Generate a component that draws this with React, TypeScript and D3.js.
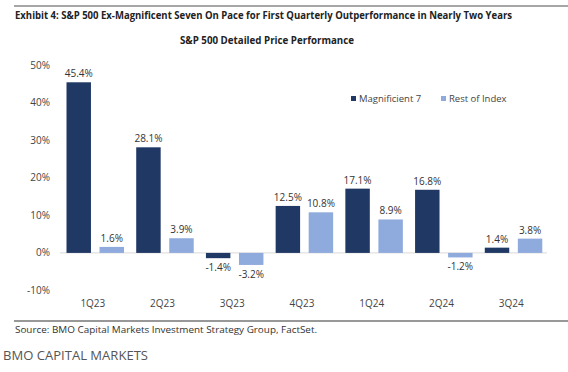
import React, { useEffect, useRef } from "react";
import * as d3 from "d3";

const quarters = ["1Q23", "2Q23", "3Q23", "4Q23", "1Q24", "2Q24", "3Q24"];
const mag7 = [45.4, 28.1, -1.4, 12.5, 17.1, 16.8, 1.4];
const restOfIndex = [1.6, 3.9, -3.2, 10.8, 8.9, -1.2, 3.8];
const seriesNames = ["Magnificient 7", "Rest of Index"];
const yTicks = [-10, 0, 10, 20, 30, 40, 50];

const COLORS = ["#203864", "#8faadc"];
const FONT = "'Open Sans', 'Noto Sans', sans-serif";

const App = () => {
  const ref = useRef<SVGSVGElement>(null);

  useEffect(() => {
    const svg = d3.select(ref.current);
    svg.selectAll("*").remove();

    const width = 568;

    // Header rule and titles
    svg.append("line")
      .attr("x1", 14).attr("x2", width).attr("y1", 6).attr("y2", 6)
      .attr("stroke", "#888").attr("stroke-width", 1.5);

    svg.append("text")
      .attr("x", 15).attr("y", 19)
      .attr("font-family", FONT).attr("font-weight", 700).attr("font-size", 10.5)
      .attr("fill", "#222")
      .attr("textLength", 497).attr("lengthAdjust", "spacingAndGlyphs")
      .text("Exhibit 4: S&P 500 Ex-Magnificent Seven On Pace for First Quarterly Outperformance in Nearly Two Years");

    svg.append("text")
      .attr("x", 267).attr("y", 44).attr("text-anchor", "middle")
      .attr("font-family", FONT).attr("font-weight", 700).attr("font-size", 10.5)
      .attr("fill", "#222")
      .attr("textLength", 174).attr("lengthAdjust", "spacingAndGlyphs")
      .text("S&P 500 Detailed Price Performance");

    // Scales
    const x = d3.scaleBand<string>().domain(quarters).range([58, 546]).paddingInner(0).paddingOuter(0);
    const y = d3.scaleLinear().domain([-10, 50]).range([290.5, 65]);
    const xs = d3.scaleBand<number>().domain([0, 1]).range([8.5, 66]).paddingInner(0.26);

    // Y axis labels
    svg.append("g").selectAll("text").data(yTicks).enter().append("text")
      .attr("x", 50).attr("y", (d) => y(d) + 3.5).attr("text-anchor", "end")
      .attr("font-family", FONT).attr("font-size", 10).attr("fill", "#444")
      .text((d) => `${d}%`);

    // Zero line
    svg.append("line")
      .attr("x1", 60).attr("x2", 547).attr("y1", y(0)).attr("y2", y(0))
      .attr("stroke", "#d9d9d9").attr("stroke-width", 1);

    const data = quarters.map((q, i) => ({ q, vals: [mag7[i], restOfIndex[i]] }));

    const groups = svg.append("g").selectAll("g").data(data).enter().append("g")
      .attr("transform", (d) => `translate(${x(d.q)},0)`);

    groups.selectAll("rect").data((d) => d.vals.map((v, k) => ({ v, k }))).enter().append("rect")
      .attr("x", (d) => xs(d.k)!)
      .attr("width", xs.bandwidth())
      .attr("y", (d) => y(Math.max(0, d.v)))
      .attr("height", (d) => Math.abs(y(d.v) - y(0)))
      .attr("fill", (d) => COLORS[d.k]);

    groups.selectAll("text.val").data((d) => d.vals.map((v, k) => ({ v, k }))).enter().append("text")
      .attr("class", "val")
      .attr("x", (d) => xs(d.k)! + xs.bandwidth() / 2)
      .attr("y", (d) => (d.v >= 0 ? y(d.v) - 5 : y(d.v) + 13))
      .attr("text-anchor", "middle")
      .attr("font-family", FONT).attr("font-size", 10).attr("fill", "#333")
      .text((d) => `${d.v.toFixed(1)}%`);

    // Category labels
    svg.append("g").selectAll("text").data(quarters).enter().append("text")
      .attr("x", (d) => x(d)! + x.bandwidth() / 2)
      .attr("y", 307)
      .attr("text-anchor", "middle")
      .attr("font-family", FONT).attr("font-size", 10).attr("fill", "#444")
      .text((d) => d);

    // Legend
    const legendX = [351, 441];
    seriesNames.forEach((name, i) => {
      svg.append("rect")
        .attr("x", legendX[i]).attr("y", 96).attr("width", 5).attr("height", 5)
        .attr("fill", COLORS[i]);
      svg.append("text")
        .attr("x", legendX[i] + 8).attr("y", 102)
        .attr("font-family", FONT).attr("font-size", 9.5).attr("fill", "#444")
        .text(name);
    });

    // Footer
    svg.append("line")
      .attr("x1", 14).attr("x2", width).attr("y1", 321).attr("y2", 321)
      .attr("stroke", "#333").attr("stroke-width", 1.2);

    svg.append("text")
      .attr("x", 15).attr("y", 333)
      .attr("font-family", FONT).attr("font-size", 9).attr("fill", "#333")
      .attr("textLength", 302).attr("lengthAdjust", "spacingAndGlyphs")
      .text("Source: BMO Capital Markets Investment Strategy Group, FactSet.");

    svg.append("text")
      .attr("x", 3).attr("y", 360)
      .attr("font-family", FONT).attr("font-size", 12.5).attr("fill", "#555")
      .attr("textLength", 145).attr("lengthAdjust", "spacingAndGlyphs")
      .text("BMO CAPITAL MARKETS");
  }, []);

  return (
    <div style={{ position: "absolute", left: 0, top: 0, background: "#fff" }}>
      <svg ref={ref} width={568} height={372} style={{ display: "block" }} />
    </div>
  );
};

export default App;
